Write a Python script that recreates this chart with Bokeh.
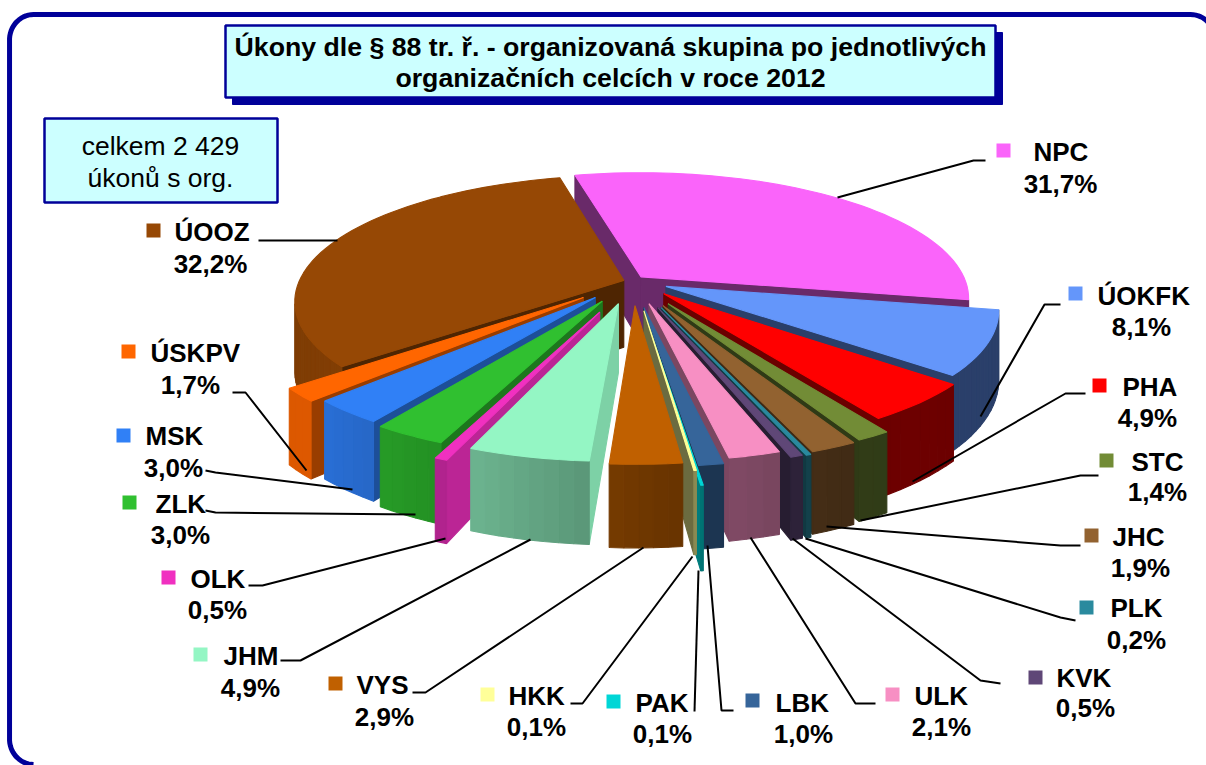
import math
import numpy as np
from bokeh.plotting import figure
from bokeh.models import Range1d
from bokeh.core.properties import value
from bokeh.embed import file_html
from bokeh.resources import INLINE

# ---- data ----
NAMES = ["NPC","ÚOKFK","PHA","STC","JHC","PLK","KVK","ULK","LBK","PAK","HKK","VYS","JHM","OLK","ZLK","MSK","ÚSKPV","ÚOOZ"]
VALUES = [31.7,8.1,4.9,1.4,1.9,0.2,0.5,2.1,1.0,0.1,0.1,2.9,4.9,0.5,3.0,3.0,1.7,32.2]
LABELS = ["31,7%","8,1%","4,9%","1,4%","1,9%","0,2%","0,5%","2,1%","1,0%","0,1%","0,1%","2,9%","4,9%","0,5%","3,0%","3,0%","1,7%","32,2%"]
TITLE_LINES = ["Úkony dle § 88 tr. ř. - organizovaná skupina po jednotlivých", "organizačních celcích v roce 2012"]
INFO_LINES = ["celkem 2 429", "úkonů s org."]

# ---- styles ----
COLORS = ["#fa64fa","#6496fa","#ff0000","#728c36","#926230","#2a8a9e","#5f4777","#f78fc3","#36659a","#00d6d6","#ffff99","#c06000","#94f6c4","#f030c0","#30c030","#3080f6","#ff6600","#964805"]
FACE_SHADE = [.42,.42,.42,.42,.42,.42,.42,.5,.45,.58,.42,.5,.85,.78,.62,.62,.6,.52]
EXPLODE_X = [.04,.118,.11,.122,.106,.10,.09,.063,.047,.055,.047,.02,-.031,-.0875,-.081,-.103,-.14,-.015]
EXPLODE_Y = [.13,.05,-.01,-.09,-.105,-.12,-.12,-.09,-.12,-.223,-.145,-.105,-.09,-.155,-.07,-.04,-.04,.10]

# ---- projection ----
CX, CY, A, B, K, HT, R, START = 628, 292, 320, 123, .165, 68, 1.03, -13.4

def proj(x, y, z=0):
    w = 1 / (1 + K * y)
    return CX + A * x * w, CY - B * y * w + HT * z * w

def shade(c, f):
    r, g, b = int(c[1:3], 16), int(c[3:5], 16), int(c[5:7], 16)
    return "#%02x%02x%02x" % (int(r * f), int(g * f), int(b * f))

def area(pts):
    return sum(pts[i][0] * pts[(i + 1) % len(pts)][1] - pts[(i + 1) % len(pts)][0] * pts[i][1] for i in range(len(pts)))

xs, ys, cols = [], [], []
def add(pts, c):
    xs.append([p[0] for p in pts]); ys.append([p[1] for p in pts]); cols.append(c)

total = sum(VALUES)
cum = np.cumsum([0] + VALUES) / total * 360 + START
slices = []
for i in range(len(VALUES)):
    slices.append((i, cum[i], cum[i + 1]))
slices.sort(key=lambda s: -abs(((s[1] + s[2]) / 2) % 360 - 180))

for i, a1, a2 in slices:
    ex, ey = EXPLODE_X[i], EXPLODE_Y[i]
    col = COLORS[i]
    n = max(2, int((a2 - a1) / 2) + 1)
    angs = np.linspace(a1, a2, n)
    outer = [(ex + R * math.sin(math.radians(a)), ey + R * math.cos(math.radians(a))) for a in angs]
    tip_t, tip_b = proj(ex, ey), proj(ex, ey, 1)
    f1 = [tip_t, proj(*outer[0]), proj(*outer[0], 1), tip_b]
    f2 = [tip_t, proj(*outer[-1]), proj(*outer[-1], 1), tip_b]
    fc = shade(col, FACE_SHADE[i])
    if area(f1) < 0:
        add(f1, fc)
    if area(f2) > 0:
        add(f2, fc)
    for j in range(n - 1):
        q = [proj(*outer[j]), proj(*outer[j + 1]), proj(*outer[j + 1], 1), proj(*outer[j], 1)]
        if area(q) < 0:
            mid = ((angs[j] + angs[j + 1]) / 2) % 360
            sf = float(np.interp(mid, [90, 150, 175, 205, 225, 270, 345], [.42, .43, .55, .76, .87, .83, .85]))
            add(q, shade(col, sf))
    add([tip_t] + [proj(*o) for o in outer], col)

# ---- page ----
p = figure(width=1206, height=765, x_range=Range1d(0, 1206), y_range=Range1d(765, 0),
           output_backend="svg", toolbar_location=None, min_border=0)
p.axis.visible = False
p.grid.visible = False
p.outline_line_color = None
p.background_fill_color = "white"
p.border_fill_color = "white"

FONT = value("Liberation Sans")
NAVY = "#000099"

# frame
rad = 24
L, T, RGT, BOT = 9, 14, 1214, 764
fx = [L + rad + rad * math.cos(math.radians(a)) for a in np.linspace(90, 270, 30)]
fy = [BOT - rad + rad * math.sin(math.radians(a)) for a in np.linspace(90, 180, 15)] + \
     [T + rad + rad * math.sin(math.radians(a)) for a in np.linspace(180, 270, 15)]
fx += [RGT - rad + rad * math.cos(math.radians(a)) for a in np.linspace(270, 360, 15)]
fy += [T + rad + rad * math.sin(math.radians(a)) for a in np.linspace(270, 360, 15)]
p.line(fx, fy, line_color=NAVY, line_width=5)

# title + info boxes
p.quad(left=[232], right=[1002], top=[32], bottom=[104], fill_color=NAVY, line_color=NAVY)
p.quad(left=[225], right=[995], top=[25], bottom=[97], fill_color="#ccffff", line_color=NAVY, line_width=2.5)
p.text([610, 610], [46, 77], text=TITLE_LINES, text_font=FONT, text_font_style="bold", text_font_size="26.7px",
       text_align="center", text_baseline="middle", text_color="black")
p.quad(left=[44], right=[277], top=[118], bottom=[202], fill_color="#ccffff", line_color=NAVY, line_width=2.5)
p.text([160, 160], [145, 177], text=INFO_LINES, text_font=FONT, text_font_size="26.5px",
       text_align="center", text_baseline="middle", text_color="black")

p.patches(xs, ys, fill_color=cols, line_color=cols, line_width=1.1)

# leaders
LEADERS = {
 "NPC":[(837,197),(973,160),(985,160)], "ÚOKFK":[(980,416),(1044,304),(1060,304)], "PHA":[(912,481),(1065,393),(1085,393)],
 "STC":[(860,520),(1080,475),(1098,475)], "JHC":[(826,526),(1060,545),(1080,545)], "PLK":[(805,538),(1060,617),(1075,620)],
 "KVK":[(792,538),(980,680),(1000,683)], "ULK":[(750,537),(855,703),(875,703)], "LBK":[(707,545),(721,710),(733,710)],
 "PAK":[(698,570),(694,711)], "HKK":[(692,556),(582,703),(570,703)], "VYS":[(643,547),(425,692),(412,692)],
 "JHM":[(530,539),(300,660),(280,660)], "OLK":[(445,538),(262,585),(248,585)], "ZLK":[(415,514),(215,512),(205,510)],
 "MSK":[(352,489),(215,472),(205,470)], "ÚSKPV":[(306,470),(245,392),(232,392)], "ÚOOZ":[(337,240),(258,240)],
}
p.multi_line([[q[0] for q in LEADERS[n]] for n in NAMES], [[q[1] for q in LEADERS[n]] for n in NAMES],
             line_color="black", line_width=2)

# legend entries: square centre, name left, percent centre, name y, percent y
SPOTS = {
 "NPC":(1003,150,1033,1060,151,183), "ÚOKFK":(1075,293,1097,1141,295,326), "PHA":(1099,385,1122,1147,386,417),
 "STC":(1106,460,1131,1157,461,491), "JHC":(1091,535,1112,1140,536,567), "PLK":(1086,607,1110,1136,607,639),
 "KVK":(1035,677,1056,1085,677,707), "ULK":(892,694,914,941,695,726), "LBK":(752,700,775,803,702,733),
 "PAK":(613,701,635,662,702,733), "HKK":(487,694,508,536,695,726), "VYS":(335,683,356,384,684,716),
 "JHM":(200,654,223,250,655,687), "OLK":(168,577,190,217,578,609), "ZLK":(129,502,155,180,503,534),
 "MSK":(123,435,145,173,435,467), "ÚSKPV":(128,351,150,190,352,384), "ÚOOZ":(153,230,174,210,231,263),
}
sp = [SPOTS[n] for n in NAMES]
p.rect([s[0] for s in sp], [s[1] for s in sp], width=14, height=14, fill_color=COLORS, line_color=None)
p.text([s[2] for s in sp], [s[4] for s in sp], text=NAMES, text_font=FONT, text_font_style="bold", text_font_size="26px",
       text_align="left", text_baseline="middle", text_color="black")
p.text([s[3] for s in sp], [s[5] for s in sp], text=LABELS, text_font=FONT, text_font_style="bold", text_font_size="26px",
       text_align="center", text_baseline="middle", text_color="black")

open("out.html", "w").write(file_html(p, INLINE))
